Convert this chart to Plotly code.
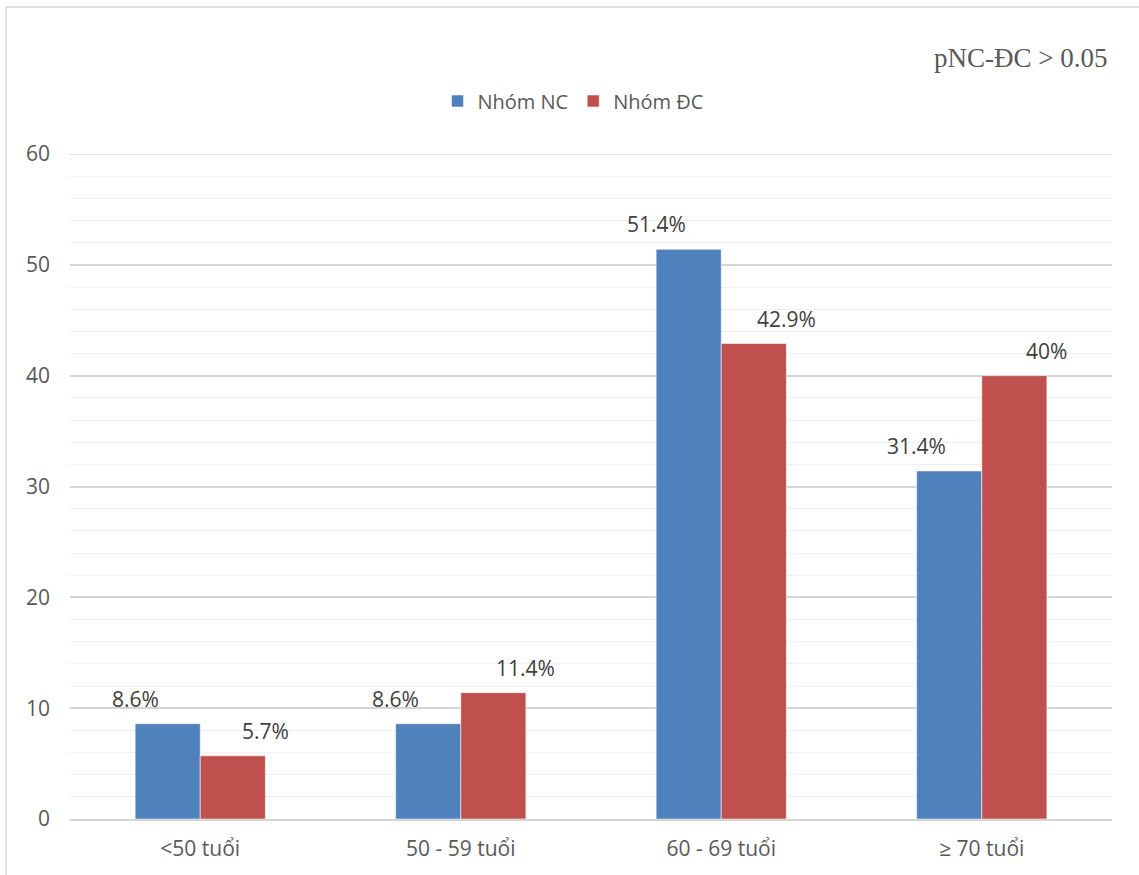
import plotly.graph_objects as go

# Age groups and share of patients (%) in each group
categories = ["<50 tuổi", "50 - 59 tuổi", "60 - 69 tuổi", "≥ 70 tuổi"]
nhom_nc = [8.6, 8.6, 51.4, 31.4]
nhom_dc = [5.7, 11.4, 42.9, 40.0]
series_names = ["Nhóm NC", "Nhóm ĐC"]
y_ticks = [0, 10, 20, 30, 40, 50, 60]
p_note = "pNC-ĐC > 0.05"

BLUE = "#4F81BD"
RED = "#C0504D"
TEXT = "#595959"
LABEL = "#404040"
FONT = "Open Sans"
GRID = "#d4d4d4"

fig = go.Figure()
for name, vals, color in [(series_names[0], nhom_nc, BLUE), (series_names[1], nhom_dc, RED)]:
    fig.add_trace(go.Bar(
        x=categories, y=vals, name=name,
        marker=dict(color=color, line=dict(color="rgba(255,255,255,0.55)", width=1)),
        offsetgroup=name,
    ))

# Value labels above each bar
offsets = [-0.25, 0.25]
for k, vals in enumerate([nhom_nc, nhom_dc]):
    for i, v in enumerate(vals):
        fig.add_annotation(
            x=i + offsets[k], y=v, xref="x", yref="y",
            text=f"{v:g}%", showarrow=False,
            xanchor="center", yanchor="bottom", yshift=9,
            font=dict(family=FONT, size=21, color=LABEL),
        )

fig.add_annotation(
    x=0.9971, y=1.1444, xref="paper", yref="paper",
    text=p_note, showarrow=False, xanchor="right", yanchor="middle",
    font=dict(family="Liberation Serif", size=27, color=TEXT),
)

# Chart frame
fig.add_shape(
    type="rect", xref="paper", yref="paper",
    x0=-0.0614, x1=1.2, y0=-0.3, y1=1.2211,
    line=dict(color="#d9d9d9", width=1.5), fillcolor="rgba(0,0,0,0)", layer="below",
)
# Gridline at the top of the value axis
fig.add_shape(
    type="line", xref="paper", yref="y", x0=0, x1=1, y0=y_ticks[-1], y1=y_ticks[-1],
    line=dict(color=GRID, width=1.5), layer="below",
)

fig.update_layout(
    width=1139, height=875,
    margin=dict(l=70, r=27, t=154, b=56, autoexpand=False),
    paper_bgcolor="white", plot_bgcolor="white",
    barmode="group", bargap=0.5, bargroupgap=0,
    showlegend=True,
    legend=dict(
        orientation="h", x=0.4827, y=1.0797, xanchor="center", yanchor="middle",
        font=dict(family=FONT, size=20, color=TEXT), itemclick=False,
        traceorder="normal",
    ),
    font=dict(family=FONT, color=TEXT),
)

fig.update_yaxes(
    range=[0, 60], tickvals=y_ticks, showgrid=True, gridcolor=GRID, gridwidth=1.5,
    zeroline=False, showline=False, ticks="", automargin=False,
    tickfont=dict(family=FONT, size=21, color=TEXT), ticklabelstandoff=19,
    minor=dict(dtick=2, showgrid=True, gridcolor="#efefef", gridwidth=1.3),
)
fig.update_xaxes(
    showgrid=False, showline=True, linecolor=GRID, linewidth=1.5, automargin=False,
    ticks="", tickfont=dict(family=FONT, size=21, color=TEXT), ticklabelstandoff=10,
)

fig.write_html("out.html")
